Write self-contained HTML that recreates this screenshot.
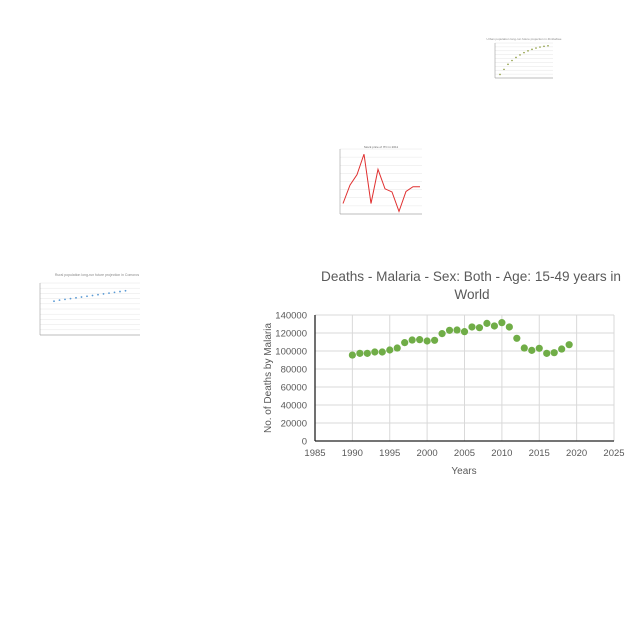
<!DOCTYPE html>
<html><head><meta charset="utf-8"><style>
body{margin:0;background:#fff;}
svg{display:block;font-family:"Liberation Sans",sans-serif;}
</style></head><body>
<svg id="s" width="640" height="640">
<text x="471" y="281" font-size="13.6" fill="#595959" text-anchor="middle">Deaths - Malaria - Sex: Both - Age: 15-49 years in</text>
<text x="472" y="299" font-size="13.6" fill="#595959" text-anchor="middle">World</text>
<text x="464" y="474" font-size="10" fill="#595959" text-anchor="middle">Years</text>
<text transform="translate(271,378) rotate(-90)" font-size="10" fill="#595959" text-anchor="middle">No. of Deaths by Malaria</text>
<g id="main"></g>
<g id="mini"></g>
</svg>
<script>
const years=[1990,1991,1992,1993,1994,1995,1996,1997,1998,1999,2000,2001,2002,2003,2004,2005,2006,2007,2008,2009,2010,2011,2012,2013,2014,2015,2016,2017,2018,2019];
const deaths=[95500,97400,97400,98900,98900,101100,103300,109300,112200,112600,111100,111900,119300,123000,123300,121500,126700,125900,130700,127800,131500,126700,114100,103300,100700,103000,97400,98100,102200,107000];
const xTicks=[1985,1990,1995,2000,2005,2010,2015,2020,2025];
const yTicks=[0,20000,40000,60000,80000,100000,120000,140000];
const redVals=[2,5.5,7.5,11.4,2,8.5,4.8,4.2,0.5,4.3,5.2,5.2];
const greenVals=[1,3,5,6.5,7.7,8.7,9.6,10.3,10.9,11.4,11.8,12.1,12.3];
const blueVals=[650,670,685,700,715,730,745,760,775,790,805,820,835,850];
const NS='http://www.w3.org/2000/svg';
function mk(p,t,a){const e=document.createElementNS(NS,t);for(const k in a)e.setAttribute(k,a[k]);p.appendChild(e);return e;}
const g=document.getElementById('main');
const X=v=>315+(v-1985)/40*299, Y=v=>441-v/140000*126;
xTicks.forEach(t=>{const l=mk(g,'line',{x1:X(t),x2:X(t),y1:315,y2:441,stroke:'#d9d9d9'});


const tx=mk(g,'text',{x:X(t),y:456,'font-size':9.5,fill:'#595959','text-anchor':'middle'});tx.textContent=t;

});
yTicks.forEach(t=>{const l=mk(g,'line',{x1:315,x2:614,y1:Y(t),y2:Y(t),stroke:'#d9d9d9'});


const tx=mk(g,'text',{x:307,y:Y(t)+3.5,'font-size':9.5,fill:'#595959','text-anchor':'end'});tx.textContent=t;

});
let ax=mk(g,'line',{x1:315,x2:315,y1:315,y2:441,stroke:'#222','stroke-width':1.3});


ax=mk(g,'line',{x1:315,x2:614,y1:441,y2:441,stroke:'#222','stroke-width':1.3});


years.forEach((y,i)=>{const c=mk(g,'circle',{cx:X(y),cy:Y(deaths[i]),r:3.6,fill:'#70ad47'});

});
const m=document.getElementById('mini');
function frame(x0,y0,x1,y1,n,name){const f=mk(m,'g',{});


for(let i=0;i<=n;i++){mk(f,'line',{x1:x0,x2:x1,y1:y0+(y1-y0)*i/n,y2:y0+(y1-y0)*i/n,stroke:'#e6e6e6','stroke-width':0.5});}
mk(f,'line',{x1:x0,x2:x0,y1:y0,y2:y1,stroke:'#888','stroke-width':0.5});
mk(f,'line',{x1:x0,x2:x1,y1:y1,y2:y1,stroke:'#888','stroke-width':0.5});return f;}
let f=frame(340,149,422,214,8,'red-line-chart');
const tr=mk(f,'text',{x:381,y:148,'font-size':3,fill:'#666','text-anchor':'middle'});tr.textContent='Stock price of ITC in 2011';
let pts=redVals.map((v,i)=>(343+i*7)+','+(214-v/12*63)).join(' ');
let pl=mk(f,'polyline',{points:pts,fill:'none',stroke:'#e03030','stroke-width':1});


f=frame(495,43,553,78,9,'green-dot-chart');
const tg=mk(f,'text',{x:524,y:40,'font-size':3,fill:'#888','text-anchor':'middle'});tg.textContent='Urban population long-run future projection in Zimbabwe';
greenVals.forEach((v,i)=>{const c=mk(f,'circle',{cx:500+i*4,cy:77-v/13*33,r:0.8,fill:'#8a9a3a'});

});
f=frame(40,283,140,335,10,'blue-dot-chart');
const tb=mk(f,'text',{x:97,y:276,'font-size':3.5,fill:'#888','text-anchor':'middle'});tb.textContent='Rural population long-run future projection in Comoros';
blueVals.forEach((v,i)=>{const c=mk(f,'circle',{cx:54+i*5.5,cy:335-v/1000*52,r:0.9,fill:'#5b9bd5'});

});
</script>
</body></html>
